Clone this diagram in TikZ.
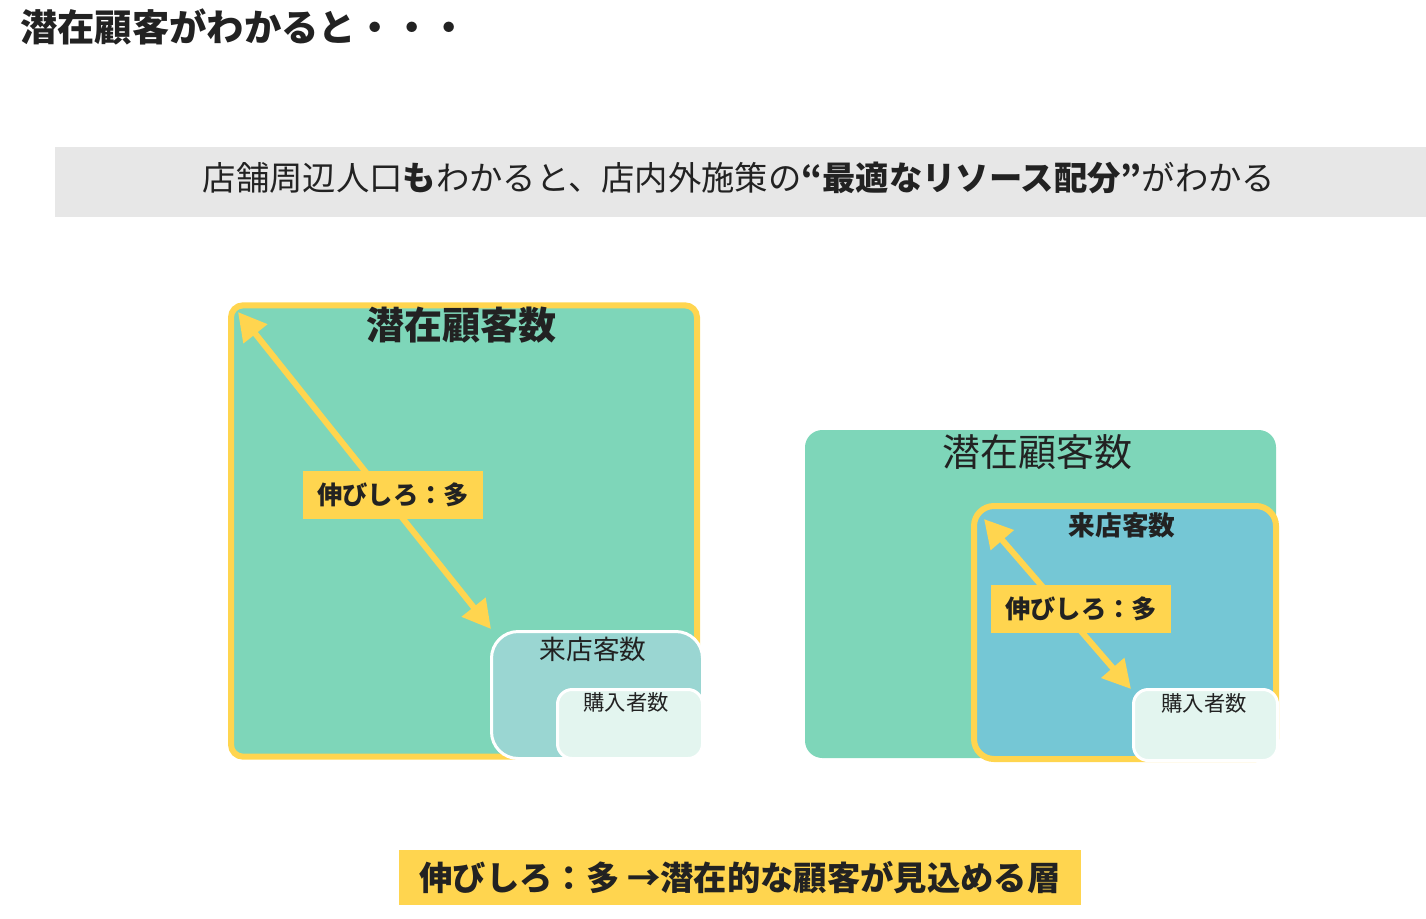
\documentclass[tikz,border=0pt]{standalone}
\usepackage{fontspec}
\setmainfont{Noto Sans CJK JP}
\usepackage{tikz}
\usetikzlibrary{arrows.meta,positioning}

\definecolor{yelw}{HTML}{FFD54F}
\definecolor{grn}{HTML}{7ED6B9}
\definecolor{tealv}{HTML}{9AD6D2}
\definecolor{blu}{HTML}{75C7D5}
\definecolor{pale}{HTML}{E3F5EF}
\definecolor{band}{HTML}{E7E7E7}
\definecolor{ink}{HTML}{222222}

\newcommand{\fsz}[1]{\fontsize{#1}{#1}\selectfont}

\begin{document}
\begin{tikzpicture}[
    x=0.75pt, y=-0.75pt,
    every node/.style={text=ink, inner sep=0pt},
    area/.style={fill=grn, rounded corners=13pt},
    potbox/.style={draw=yelw, line width=4.5pt, fill=grn, rounded corners=9pt},
    visbox/.style={draw=white, line width=2.25pt, fill=tealv, rounded corners=20pt},
    visbox2/.style={draw=yelw, line width=4.5pt, fill=blu, rounded corners=15pt},
    buybox/.style={draw=white, line width=2.25pt, fill=pale, rounded corners=11pt},
    tag/.style={fill=yelw, minimum width=135pt, minimum height=36pt, font=\fsz{19pt}\bfseries},
    arrow/.style={{Triangle[length=21pt,width=22pt]}-{Triangle[length=21pt,width=22pt]}, draw=yelw, line width=4.5pt}
]
\useasboundingbox (0,0) rectangle (1426,918);

% Title
\node[anchor=west, font=\fsz{28pt}\bfseries] (ttl) at (20,27) {潜在顧客がわかると・・・};

% Banner
\node[fill=band, minimum width=1028.25pt, minimum height=52.5pt] (band) at (740.5,182) {};
\node[font=\fsz{25pt}] (msg) at (739,178) {店舗周辺人口\textbf{も}わかると、店内外施策の\textbf{“最適なリソース配分”}がわかる};

% Left: potential customers
\node[potbox, minimum width=349.5pt, minimum height=338.5pt] (pot1) at (464,531) {};
\node[font=\fsz{28.5pt}\bfseries] (pot1txt) at (461,325) {潜在顧客数};
\node[visbox, minimum width=158.25pt, minimum height=95.25pt] (vis1) at (597,695) {};
\node[font=\fsz{20pt}] (vis1txt) at (593,649) {来店客数};
\node[buybox, minimum width=108.75pt, minimum height=51.75pt] (buy1) at (630,724) {};
\node[font=\fsz{16pt}] (buy1txt) at (626,702) {購入者数};
\coordinate (top1) at (238,312);
\coordinate (bot1) at (491,629);
\draw[arrow] (top1) -- (bot1);
\node[tag] (gap1) at (393,495) {伸びしろ：多};

% Right: store visitors
\node[area, minimum width=353.25pt, minimum height=246pt] (pot2) at (1040.5,594) {};
\node[font=\fsz{28.5pt}] (pot2txt) at (1037,452) {潜在顧客数};
\node[visbox2, minimum width=226.5pt, minimum height=189.75pt] (vis2) at (1125,632.5) {};
\node[font=\fsz{20pt}\bfseries] (vis2txt) at (1122,525) {来店客数};
\node[buybox, minimum width=108pt, minimum height=53.25pt] (buy2) at (1205.5,725) {};
\node[font=\fsz{16pt}] (buy2txt) at (1204,703) {購入者数};
\coordinate (top2) at (984,519);
\coordinate (bot2) at (1131,689);
\draw[arrow] (top2) -- (bot2);
\node[tag] (gap2) at (1081,608.5) {伸びしろ：多};

% Summary
\node[fill=yelw, minimum width=511.5pt, minimum height=41.25pt, font=\fsz{25pt}\bfseries] (sum) at (740,877.5) {伸びしろ：多 →潜在的な顧客が見込める層};

\end{tikzpicture}
\end{document}
